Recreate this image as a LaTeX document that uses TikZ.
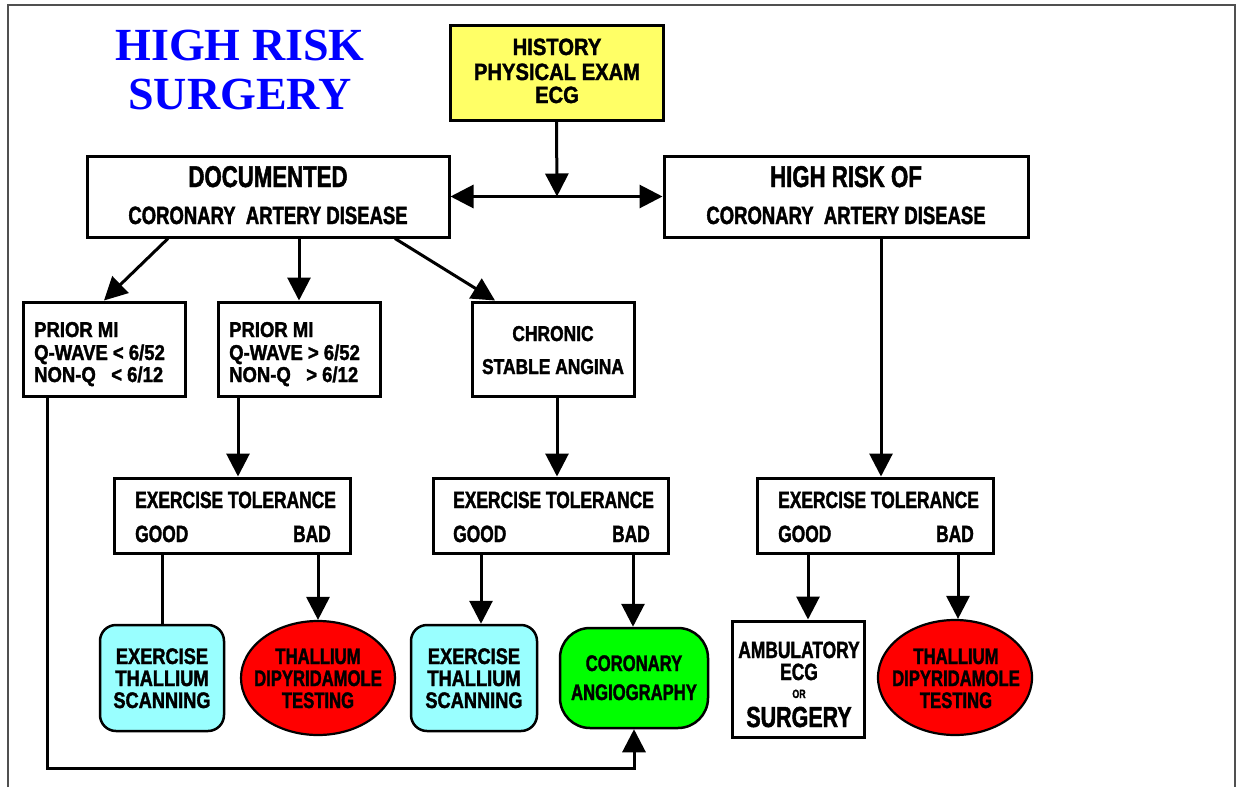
\documentclass[tikz,border=0pt]{standalone}
\usepackage{fontspec}
\setmainfont{Liberation Sans}[FakeStretch=0.75, FakeBold=1.6]
\newfontfamily\faX{Liberation Sans}[FakeStretch=0.74, FakeBold=1.6]
\newfontfamily\fbX{Liberation Sans}[FakeStretch=0.81, FakeBold=1.6]
\newfontfamily\fcX{Liberation Sans}[FakeStretch=0.86, FakeBold=1.6]
\newcommand\fa{\faX\bfseries}
\newcommand\fb{\fbX\bfseries}
\newcommand\fc{\fcX\bfseries}
\newfontfamily\titlefont{Liberation Serif}
\usetikzlibrary{arrows.meta,shapes.geometric}
\newcommand\setfs[1]{\fontsize{#1}{#1}\selectfont}
\definecolor{hyellow}{RGB}{255,255,102}
\definecolor{hcyan}{RGB}{153,255,255}
\definecolor{hred}{RGB}{255,0,0}
\definecolor{hgreen}{RGB}{0,255,0}
\definecolor{hblue}{RGB}{0,0,255}
\definecolor{frame}{RGB}{80,80,80}
\tikzset{
  box/.style={draw, line width=3pt, fill=white, rectangle, inner sep=0pt},
  rbox/.style={box, line width=2.5pt, rounded corners=16pt, fill=hcyan},
  gbox/.style={box, line width=2.5pt, rounded corners=30pt, fill=hgreen},
  ebox/.style={draw, line width=2.2pt, fill=hred, ellipse, inner sep=0pt},
  t/.style={inner sep=0pt, anchor=base},
  tw/.style={inner sep=0pt, anchor=base west},
  te/.style={inner sep=0pt, anchor=base east},
  arr/.style={line width=3pt, line join=miter, -{Triangle[length=23pt,width=23pt]}},
  plain/.style={line width=3pt},
}
\begin{document}
\begin{tikzpicture}[x=1pt,y=-1pt]
\useasboundingbox (0,0) rectangle (1239,787);
\draw[draw=frame, line width=2pt] (8,787) -- (8,5) -- (1235,5) -- (1235,787);

% title
\node[t, text=hblue, font=\titlefont\bfseries\setfs{46}] (ti1) at (240,60) {HIGH RISK};
\node[t, text=hblue, font=\titlefont\bfseries\setfs{46}] (ti2) at (240,109) {SURGERY};

% boxes
\node[box, fill=hyellow, minimum width=213pt, minimum height=95pt] (hist) at (556.5,72.5) {};
\node[box, minimum width=362pt, minimum height=81pt] (doc) at (268,196.5) {};
\node[box, minimum width=364pt, minimum height=81pt] (hr) at (846,196.5) {};
\node[box, minimum width=162pt, minimum height=94pt] (pl) at (104,349) {};
\node[box, minimum width=162pt, minimum height=94pt] (pm) at (299,349) {};
\node[box, minimum width=162pt, minimum height=94pt] (ch) at (553,349) {};
\node[box, minimum width=236pt, minimum height=75pt] (et1) at (232,515.5) {};
\node[box, minimum width=235pt, minimum height=75pt] (et2) at (550.5,515.5) {};
\node[box, minimum width=236pt, minimum height=75pt] (et3) at (875,515.5) {};
\node[rbox, minimum width=124pt, minimum height=106pt] (cy1) at (162,678) {};
\node[ebox, minimum width=154pt, minimum height=114pt] (el1) at (318,678) {};
\node[rbox, minimum width=126pt, minimum height=106pt] (cy2) at (474,678) {};
\node[gbox, minimum width=148pt, minimum height=100pt] (gr) at (634,678) {};
\node[box, minimum width=132pt, minimum height=116pt] (amb) at (798,679) {};
\node[ebox, minimum width=154pt, minimum height=115pt] (el2) at (955,677.5) {};

% texts
\node[t, font=\fc\setfs{23.5}] (h1) at (557,55) {HISTORY};
\node[t, font=\fc\setfs{23.5}] (h2) at (557,80) {PHYSICAL EXAM};
\node[t, font=\fc\setfs{23.5}] (h3) at (557,103) {ECG};

\node[t, font=\fa\setfs{30}] (d1) at (268,187) {DOCUMENTED};
\node[t, font=\fa\setfs{25}] (d2) at (268,224) {CORONARY\ \ ARTERY DISEASE};
\node[t, font=\fa\setfs{30}] (r1) at (846,187) {HIGH RISK OF};
\node[t, font=\fa\setfs{25}] (r2) at (846,224) {CORONARY\ \ ARTERY DISEASE};

\node[tw, font=\fc\setfs{21.5}] (pl1) at (34,337) {PRIOR MI};
\node[tw, font=\fc\setfs{21.5}] (pl2) at (34,360) {Q-WAVE < 6/52};
\node[tw, font=\fc\setfs{21.5}] (pl3) at (34,382) {NON-Q\ \ \ < 6/12};
\node[tw, font=\fc\setfs{21.5}] (pm1) at (229,337) {PRIOR MI};
\node[tw, font=\fc\setfs{21.5}] (pm2) at (229,360) {Q-WAVE > 6/52};
\node[tw, font=\fc\setfs{21.5}] (pm3) at (229,382) {NON-Q\ \ \ > 6/12};

\node[t, font=\fb\setfs{21.5}] (c1) at (553,341) {CHRONIC};
\node[t, font=\fb\setfs{21.5}] (c2) at (553,374) {STABLE ANGINA};

\node[tw, font=\fa\setfs{23.5}] (e1a) at (135,508) {EXERCISE TOLERANCE};
\node[tw, font=\fa\setfs{23.5}] (e1b) at (135,542) {GOOD};
\node[te, font=\fa\setfs{23.5}] (e1c) at (331,542) {BAD};
\node[tw, font=\fa\setfs{23.5}] (e2a) at (453,508) {EXERCISE TOLERANCE};
\node[tw, font=\fa\setfs{23.5}] (e2b) at (453,542) {GOOD};
\node[te, font=\fa\setfs{23.5}] (e2c) at (650,542) {BAD};
\node[tw, font=\fa\setfs{23.5}] (e3a) at (778,508) {EXERCISE TOLERANCE};
\node[tw, font=\fa\setfs{23.5}] (e3b) at (778,542) {GOOD};
\node[te, font=\fa\setfs{23.5}] (e3c) at (974,542) {BAD};

\node[t, font=\fb\setfs{22.5}] (x1a) at (162,664) {EXERCISE};
\node[t, font=\fb\setfs{22.5}] (x1b) at (162,686) {THALLIUM};
\node[t, font=\fb\setfs{22.5}] (x1c) at (162,708) {SCANNING};
\node[t, font=\fb\setfs{22.5}] (x2a) at (474,664) {EXERCISE};
\node[t, font=\fb\setfs{22.5}] (x2b) at (474,686) {THALLIUM};
\node[t, font=\fb\setfs{22.5}] (x2c) at (474,708) {SCANNING};

\node[t, font=\fa\setfs{22.5}] (l1a) at (318,664) {THALLIUM};
\node[t, font=\fa\setfs{22.5}] (l1b) at (318,686) {DIPYRIDAMOLE};
\node[t, font=\fa\setfs{22.5}] (l1c) at (318,708) {TESTING};
\node[t, font=\fa\setfs{22.5}] (l2a) at (956,664) {THALLIUM};
\node[t, font=\fa\setfs{22.5}] (l2b) at (956,686) {DIPYRIDAMOLE};
\node[t, font=\fa\setfs{22.5}] (l2c) at (956,708) {TESTING};

\node[t, font=\fa\setfs{22.5}] (g1) at (634,671) {CORONARY};
\node[t, font=\fa\setfs{22.5}] (g2) at (634,700) {ANGIOGRAPHY};

\node[t, font=\fa\setfs{23.5}] (a1) at (799,658) {AMBULATORY};
\node[t, font=\fa\setfs{23.5}] (a2) at (799,680) {ECG};
\node[t, font=\fa\setfs{12}] (a3) at (799,698) {OR};
\node[t, font=\fa\setfs{29}] (a4) at (799,727) {SURGERY};

% connectors
\coordinate (mid) at (557,196.5);
\draw[arr] (hist.south) -- (mid);
\draw[line width=3pt, {Triangle[length=23pt,width=23pt]}-{Triangle[length=23pt,width=23pt]}] (doc.east) -- (hr.west);
\draw[arr] ([xshift=-100pt]doc.south) -- (pl.north);
\draw[arr] ([xshift=31pt]doc.south) -- (pm.north);
\draw[arr] ([xshift=127pt]doc.south) -- ([xshift=-58pt]ch.north);
\draw[arr] ([xshift=35pt]hr.south) -- ([xshift=6pt]et3.north);
\draw[arr] ([xshift=-61pt]pm.south) -- ([xshift=6pt]et1.north);
\draw[arr] ([xshift=4pt]ch.south) -- ([xshift=6.5pt]et2.north);
\draw[plain] ([xshift=-70pt]et1.south) -- (cy1.north);
\draw[arr] ([xshift=86pt]et1.south) -- (el1.north);
\draw[arr] ([xshift=-69.5pt]et2.south) -- ([xshift=7pt]cy2.north);
\draw[arr] ([xshift=82.5pt]et2.south) -- ([xshift=-1pt]gr.north);
\draw[arr] ([xshift=-67pt]et3.south) -- ([xshift=10pt]amb.north);
\draw[arr] ([xshift=83pt]et3.south) -- ([xshift=3pt]el2.north);
\coordinate (lc) at (634,768);
\draw[arr] ([xshift=-57pt]pl.south) |- (lc) -- (gr.south);
\end{tikzpicture}
\end{document}
